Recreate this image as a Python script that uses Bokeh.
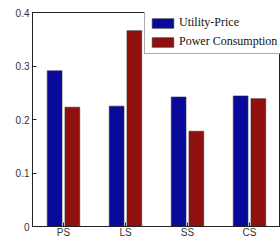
from bokeh.plotting import figure
from bokeh.models import ColumnDataSource, FixedTicker, LinearAxis, Legend, LegendItem, Range1d
from bokeh.embed import file_html
from bokeh.resources import INLINE

categories = ["PS", "LS", "SS", "CS"]
utility_price = [0.291, 0.225, 0.242, 0.244]
power_consumption = [0.223, 0.366, 0.178, 0.239]
y_ticks = [0, 0.1, 0.2, 0.3, 0.4]
y_tick_labels = ["0", "0.1", "0.2", "0.3", "0.4"]

xpos = list(range(1, len(categories) + 1))
src = ColumnDataSource(dict(
    xb=[x - 0.143 for x in xpos],
    xr=[x + 0.143 for x in xpos],
    u=utility_price,
    pc=power_consumption,
))

p = figure(width=280, height=240, output_backend="svg", toolbar_location=None,
           x_range=Range1d(0.5, 4.5), y_range=Range1d(0, 0.4),
           min_border_left=32, min_border_right=0, min_border_top=12, min_border_bottom=12,
           x_axis_location=None, y_axis_location=None)
p.grid.visible = False
p.outline_line_color = "#222222"
p.background_fill_color = "white"

bw = 0.238
r1 = p.vbar(x="xb", top="u", width=bw, source=src, fill_color="#0a0a9a",
            line_color="#333333", line_width=0.6)
r2 = p.vbar(x="xr", top="pc", width=bw, source=src, fill_color="#901010",
            line_color="#333333", line_width=0.6)

font = "Liberation Sans"

xa = LinearAxis(ticker=FixedTicker(ticks=xpos),
                major_label_overrides={x: c for x, c in zip(xpos, categories)})
ya = LinearAxis(ticker=FixedTicker(ticks=y_ticks),
                major_label_overrides={t: l for t, l in zip(y_ticks, y_tick_labels)})
for ax in (xa, ya):
    ax.major_tick_in = 4
    ax.major_tick_out = 0
    ax.minor_tick_line_color = None
    ax.axis_line_color = "#222222"
    ax.major_tick_line_color = "#222222"
    ax.major_label_text_font = font
    ax.major_label_text_font_size = "10px"
    ax.major_label_text_color = "#333333"
xa.major_label_standoff = 0
ya.major_label_standoff = 3
p.add_layout(xa, "below")
p.add_layout(ya, "left")

legend = Legend(items=[LegendItem(label="Utility-Price", renderers=[r1]),
                       LegendItem(label="Power Consumption", renderers=[r2])],
                location=(112, 172))
legend.label_text_font = "Liberation Serif"
legend.label_text_font_size = "12px"
legend.label_text_color = "#111111"
legend.glyph_width = 27
legend.glyph_height = 12
legend.label_height = 12
legend.label_standoff = 3
legend.spacing = 4
legend.padding = 4
legend.margin = 0
legend.border_line_color = "#555555"
legend.border_line_width = 1
legend.background_fill_alpha = 1
p.add_layout(legend)

open("out.html", "w").write(file_html(p, INLINE))
